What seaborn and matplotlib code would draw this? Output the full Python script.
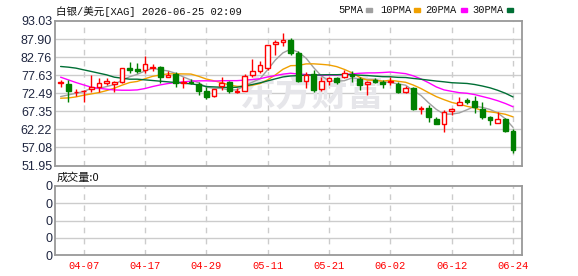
import numpy as np
import pandas as pd
import matplotlib
matplotlib.use("Agg")
import matplotlib.pyplot as plt
import seaborn as sns

# ---------------- data ----------------
title = "白银/美元[XAG] 2026-06-25 02:09"
dates = pd.bdate_range("2026-04-02", "2026-06-24")
tick_labels = ["04-07", "04-17", "04-29", "05-11", "05-21", "06-02", "06-12", "06-24"]
y_ticks = [51.95, 57.08, 62.22, 67.35, 72.49, 77.63, 82.76, 87.90, 93.03]

opens = [75.54, 75.16, 72.78, 73.06, 73.82, 74.40, 75.44, 75.16, 75.82, 79.53,
         79.34, 78.96, 79.53, 79.91, 77.06, 78.01, 75.54, 75.82, 75.16, 73.16,
         71.64, 74.59, 75.82, 72.97, 73.06, 77.72, 78.68, 79.63, 86.57, 87.04,
         87.71, 83.91, 76.11, 78.01, 73.73, 76.01, 76.77, 77.06, 77.91, 76.49,
         75.06, 76.30, 75.73, 75.73, 75.06, 72.97, 73.92, 67.93, 68.31, 65.17,
         63.65, 67.55, 69.26, 70.50, 70.31, 68.02, 65.65, 63.93, 65.17, 61.75]
closes = [75.54, 73.25, 72.97, 73.25, 74.40, 75.35, 76.01, 75.73, 79.63, 79.15,
          78.77, 80.86, 79.82, 77.06, 77.72, 75.35, 75.73, 75.35, 73.25, 71.45,
          73.73, 75.54, 73.25, 73.25, 77.44, 78.68, 80.39, 86.09, 87.04, 87.71,
          83.91, 76.11, 77.72, 73.44, 76.01, 76.77, 75.82, 78.20, 77.44, 74.87,
          75.82, 75.73, 75.16, 76.11, 72.97, 73.92, 67.93, 68.31, 65.65, 63.65,
          67.26, 67.93, 70.02, 70.12, 68.50, 65.84, 64.89, 65.17, 61.75, 56.33]
highs = [76.30, 76.30, 73.73, 73.54, 77.70, 76.77, 76.77, 76.01, 79.63, 81.24,
         81.05, 83.14, 80.86, 80.10, 78.68, 78.49, 77.06, 76.49, 75.82, 74.40,
         73.83, 77.06, 76.01, 74.02, 78.01, 82.19, 81.53, 86.28, 87.52, 89.61,
         88.19, 84.38, 78.39, 79.15, 77.06, 77.06, 77.25, 78.96, 78.68, 77.06,
         76.01, 76.77, 76.30, 77.06, 75.82, 74.59, 74.40, 68.88, 69.17, 65.65,
         67.74, 68.31, 71.35, 71.26, 71.73, 70.02, 66.03, 67.17, 65.36, 62.41]
lows = [74.40, 70.00, 71.83, 70.12, 72.97, 72.97, 74.87, 72.97, 75.35, 78.20,
        78.20, 78.20, 78.87, 75.54, 77.06, 74.40, 74.11, 75.16, 72.02, 70.97,
        71.54, 73.44, 72.68, 72.68, 73.06, 77.25, 78.20, 79.15, 83.33, 85.81,
        83.43, 75.82, 73.92, 72.97, 73.25, 74.78, 75.16, 76.77, 75.73, 73.44,
        72.02, 75.35, 73.92, 74.78, 72.68, 72.68, 67.74, 66.50, 64.41, 63.65,
        61.56, 66.31, 69.17, 69.36, 66.98, 65.17, 63.46, 63.93, 61.46, 55.57]

# moving-average values before each window fills
ma5_head = [71.54, 72.02, 72.49, 72.97]
ma10_head = [71.07, 71.16, 71.45, 71.92, 72.30, 72.68, 73.25, 73.92, 74.78]
ma20_head = [77.06, 76.30, 75.54, 74.87, 74.20, 73.92, 73.64, 73.44, 73.35, 73.35,
             73.44, 73.83, 74.40, 74.87, 75.25, 75.54, 75.73, 75.92, 76.01]
ma30_head = [80.10, 79.91, 79.63, 79.15, 78.68, 78.20, 77.72, 77.06, 76.77, 76.49,
             76.49, 76.30, 76.11, 75.92, 75.73, 75.54, 75.35, 75.16, 74.87, 74.40,
             74.30, 74.20, 74.11, 74.20, 74.59, 74.97, 75.44, 76.01, 76.58]

ma_names = ["5PMA", "10PMA", "20PMA", "30PMA"]
ma_colors = ["#a0a0a0", "#f0a000", "#ff00ff", "#006f35"]

# ---------------- build ----------------
n = len(closes)
idx = np.arange(n)
cs = pd.Series(closes)


def ma(win, head):
    s = cs.rolling(win).mean()
    s.iloc[:len(head)] = head
    return s.values


mas = [ma(5, ma5_head), ma(10, ma10_head), ma(20, ma20_head), ma(30, ma30_head)]
df = pd.DataFrame({"i": np.tile(idx, 4),
                   "v": np.concatenate(mas),
                   "ma": np.repeat(ma_names, n)})

sns.set_theme(style="white")
plt.rcParams["font.family"] = ["Liberation Sans", "Noto Sans CJK SC", "DejaVu Sans"]

W, H = 578, 276
fig = plt.figure(figsize=(W / 100, H / 100), dpi=100)
fig.patch.set_facecolor("white")

L, R = 55, 522
ax = fig.add_axes([L / W, 1 - 165.5 / H, (R - L) / W, (165.5 - 21) / H])
axv = fig.add_axes([L / W, 1 - 255 / H, (R - L) / W, (255 - 186) / H])

xlim = (-0.73, 60.17)
label_names = [d.strftime("%m-%d") for d in dates]
tick_pos = [label_names.index(t) for t in tick_labels]

grid_c = "#cccccc"
spine_c = "#999999"
for a in (ax, axv):
    a.set_xlim(*xlim)
    a.set_facecolor("white")
    for s in a.spines.values():
        s.set_color(spine_c)
        s.set_linewidth(1.3)
    for p in tick_pos:
        a.axvline(p, color=grid_c, lw=1, ls=(0, (4, 4)), zorder=0)
    a.tick_params(length=0, pad=2)

# main axis
ax.set_ylim(y_ticks[0], y_ticks[-1])
ax.set_yticks(y_ticks)
ax.set_yticklabels([f"{v:.2f}" for v in y_ticks], fontsize=9, color="#1f2640")
for v in y_ticks[1:-1]:
    ax.axhline(v, color=grid_c, lw=1, zorder=0)
ax.set_xticks([])

# watermark
ax.text(0.395, 0.49, "东方财富", transform=ax.transAxes, fontsize=26,
        family=["Noto Sans CJK SC"], fontweight="bold", color="#e6e6ea",
        ha="left", va="center", zorder=0.5)

# MA lines
sns.lineplot(data=df, x="i", y="v", hue="ma", palette=dict(zip(ma_names, ma_colors)),
             ax=ax, lw=1, legend=False, zorder=2)

# candles
red, green = "#ff0000", "#008000"
for i in idx:
    o, c, h, l = opens[i], closes[i], highs[i], lows[i]
    up = c >= o
    col = red if up else green
    ax.vlines(i, l, h, color=col, lw=1, zorder=3)
    body = max(abs(c - o), 0.15)
    ax.bar(i, body, bottom=min(o, c), width=0.62,
           facecolor="white" if up else green, edgecolor=col, lw=1, zorder=4)

ax.set_xlabel("")
ax.set_ylabel("")

# volume axis
axv.set_ylim(0, 4)
axv.set_yticks([0, 1, 2, 3, 4])
axv.set_yticklabels(["0"] * 5, fontsize=9, color="#1f2640")
for v in [1, 2, 3]:
    axv.axhline(v, color=grid_c, lw=1, zorder=0)
axv.set_xticks(tick_pos)
axv.set_xticklabels(tick_labels, fontsize=7.5, color="#ff0000",
                    family=["Liberation Mono"])
axv.tick_params(axis="x", pad=4)

# texts
fig.text(56 / W, 1 - 12 / H, title, fontsize=7.6, color="#111111",
         family=["Liberation Mono", "Noto Sans CJK SC"], va="center", ha="left")
fig.text(57 / W, 1 - 178 / H, "成交量:0", fontsize=8, color="#111111",
         family=["Noto Sans CJK SC", "Liberation Mono"], va="center", ha="left")

leg_x = [338, 380, 425, 472]
sq_x = [366, 414, 461, 507]
for name, col, tx, sx in zip(ma_names, ma_colors, leg_x, sq_x):
    fig.text(tx / W, 1 - 10 / H, name, fontsize=7.5, color="#111111",
             family=["Liberation Mono"], va="center", ha="left")
    fig.patches.append(plt.Rectangle((sx / W, 1 - 12 / H), 6 / W, 4 / H,
                                     transform=fig.transFigure, color=col))

fig.savefig("out.png", dpi=100)
